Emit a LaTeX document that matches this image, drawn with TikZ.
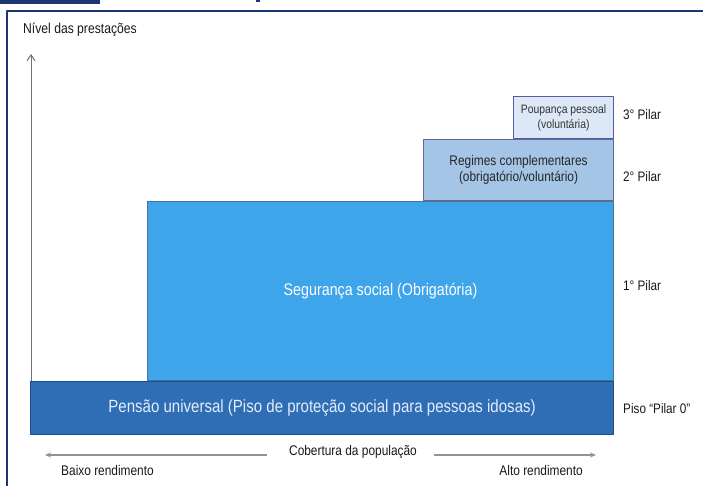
\documentclass[tikz,border=0pt]{standalone}
\usepackage{fontspec}
\setmainfont{Liberation Sans}[FakeStretch=0.85]
\usetikzlibrary{positioning,arrows.meta}
\definecolor{moldura}{HTML}{1B3673}
\definecolor{pisoazul}{HTML}{2F6DB5}
\definecolor{pisoborda}{HTML}{1D4C86}
\definecolor{segazul}{HTML}{3FA5EA}
\definecolor{regazul}{HTML}{A5C5E7}
\definecolor{poupazul}{HTML}{DCE8F6}
\definecolor{textoclaro}{HTML}{E2EEF9}
\tikzset{
	pilar/.style={draw=#1, line width=.9pt, inner sep=0pt, align=center, anchor=south east},
	seta/.style={draw=gray!85, line width=1.1pt, -{Stealth[length=6pt,width=5pt]}},
	rotulo/.style={anchor=west, inner sep=0pt, font=\fontsize{13.8}{16}\selectfont}
}
\begin{document}
\begin{tikzpicture}[x=1pt,y=-1pt, line join=round, font=\fontsize{14}{16}\selectfont, text=black!90]
	\useasboundingbox (0,0) rectangle (703,486);
	%moldura
	\fill[moldura] (0,0) rectangle (100,4);
	\fill[moldura] (256,0) rectangle (260,2);
	\draw[moldura,line width=2pt] (703,11)--(7,11)--(7,486);
	%eixo vertical
	\node[anchor=west, inner sep=0pt, font=\fontsize{14.3}{16}\selectfont] (nivel) at (23,30) {Nível das prestações};
	\coordinate (topo) at (31,54);
	\coordinate (base) at (31,382);
	\draw[gray!90!black, line width=1pt, -{Straight Barb[length=6pt,width=8pt]}] (base)--(topo);
	%pilares
	\node[pilar=pisoborda, fill=pisoazul, text=textoclaro, minimum width=583, minimum height=53,
		font=\fontsize{17.7}{20}\selectfont] (piso) at (614,435)
		{Pensão universal (Piso de proteção social para pessoas idosas)};
	\node[pilar=pisoborda!80, fill=segazul, text=white, minimum width=466, minimum height=179,
		font=\fontsize{16.8}{19}\selectfont] (seg) at (piso.north east)
		{Segurança social (Obrigatória)};
	\node[pilar=gray!80!blue, fill=regazul, text=black!85, minimum width=190, minimum height=61,
		font=\fontsize{14}{16}\selectfont] (reg) at (seg.north east)
		{Regimes complementares\\(obrigatório/voluntário)};
	\node[pilar=gray!70!blue, fill=poupazul, text=black!80, minimum width=100, minimum height=42,
		font=\fontsize{12.2}{15.5}\selectfont] (poup) at (reg.north east)
		{Poupança pessoal\\(voluntária)};
	%rotulos dos pilares
	\node[rotulo] (p3) at (623,115) {3° Pilar};
	\node[rotulo] (p2) at (623,177) {2° Pilar};
	\node[rotulo] (p1) at (623,286) {1° Pilar};
	\node[rotulo] (p0) at (623,409) {Piso “Pilar 0”};
	%cobertura
	\node[inner sep=0pt] (cob) at (353,452) {Cobertura da população};
	\coordinate (esq) at (45,455);
	\coordinate (dir) at (596,455);
	\draw[seta] ([xshift=-22pt]cob.west |- esq) -- (esq);
	\draw[seta] ([xshift=17pt]cob.east |- dir) -- (dir);
	\node[anchor=west, inner sep=0pt] (baixo) at (61,470) {Baixo rendimento};
	\node[anchor=east, inner sep=0pt] (alto) at (583,470) {Alto rendimento};
\end{tikzpicture}
\end{document}
